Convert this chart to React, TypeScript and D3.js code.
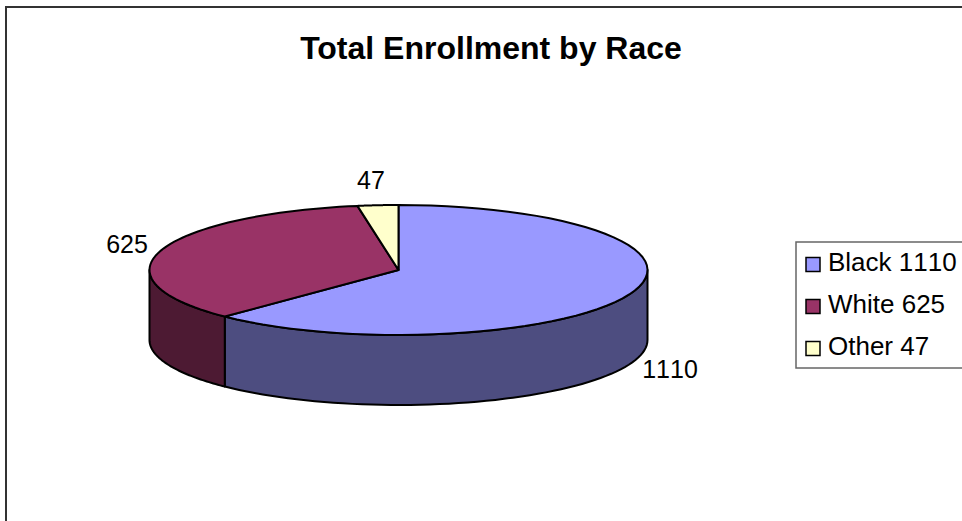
import React from "react";
import * as d3 from "d3";

const categories = ["Black", "White", "Other"];
const values = [1110, 625, 47];
const topColors = ["#9999FF", "#993366", "#FFFFCC"];
const sideColors = ["#4D4D80", "#4D1A33", "#808066"];
const legendLabels = ["Black 1110", "White 625", "Other 47"];
const dataLabels = ["1110", "625", "47"];
const labelPositions = [[670, 378], [127, 253], [371, 189]];

const FONT = "'Liberation Sans', Arial, sans-serif";
const W = 962, H = 521;
const cx = 398.5, cy = 270, rx = 249, ry = 65, depth = 70;

const xAt = d3.scaleLinear().domain([-1, 1]).range([cx - rx, cx + rx]);
const yAt = d3.scaleLinear().domain([-1, 1]).range([cy - ry, cy + ry]);
const pt = (a: number, dy = 0): [number, number] => [xAt(Math.sin(a)), yAt(-Math.cos(a)) + dy];
const line = d3.line();
const samples = (a0: number, a1: number) => d3.range(0, 61).map((i) => a0 + ((a1 - a0) * i) / 60);

const arcs = d3.pie<number>().sort(null)(values);

const topPath = (a0: number, a1: number) =>
  line([[cx, cy], ...samples(a0, a1).map((a) => pt(a))])! + "Z";

const sidePath = (a0: number, a1: number) => {
  const s = samples(a0, a1);
  return line([...s.map((a) => pt(a)), ...s.slice().reverse().map((a) => pt(a, depth))])! + "Z";
};

const FRONT0 = Math.PI / 2, FRONT1 = (3 * Math.PI) / 2;

export default function App() {
  return (
    <svg width={W} height={H} style={{ position: "absolute", left: 0, top: 0, background: "#fff" }}>
      <path d={`M6,${H}V7H${W}`} fill="none" stroke="#333" strokeWidth={2} />
      <text x={491} y={59} textAnchor="middle" fontFamily={FONT} fontWeight="bold" fontSize={32} fill="#000">
        Total Enrollment by Race
      </text>

      {arcs.map((d, i) => {
        const a0 = Math.max(d.startAngle, FRONT0), a1 = Math.min(d.endAngle, FRONT1);
        return a1 > a0 ? (
          <path key={categories[i]} d={sidePath(a0, a1)} fill={sideColors[i]} stroke="#000" strokeWidth={2} strokeLinejoin="round" />
        ) : null;
      })}
      {arcs.map((d, i) => (
        <path key={categories[i]} d={topPath(d.startAngle, d.endAngle)} fill={topColors[i]} stroke="#000" strokeWidth={2} strokeLinejoin="round" />
      ))}

      {dataLabels.map((t, i) => (
        <text key={t} x={labelPositions[i][0]} y={labelPositions[i][1]} textAnchor="middle" fontFamily={FONT} fontSize={25} fill="#000" style={{ fontKerning: "none" }}>
          {t}
        </text>
      ))}

      <rect x={796} y={242} width={170} height={126} fill="#fff" stroke="#666" strokeWidth={1.5} />
      {legendLabels.map((t, i) => (
        <g key={t}>
          <rect x={806} y={257.5 + i * 42} width={14} height={14} fill={topColors[i]} stroke="#000" strokeWidth={1.5} />
          <text x={828} y={271 + i * 42} fontFamily={FONT} fontSize={26} fill="#000" style={{ fontKerning: "none" }}>
            {t}
          </text>
        </g>
      ))}
    </svg>
  );
}
